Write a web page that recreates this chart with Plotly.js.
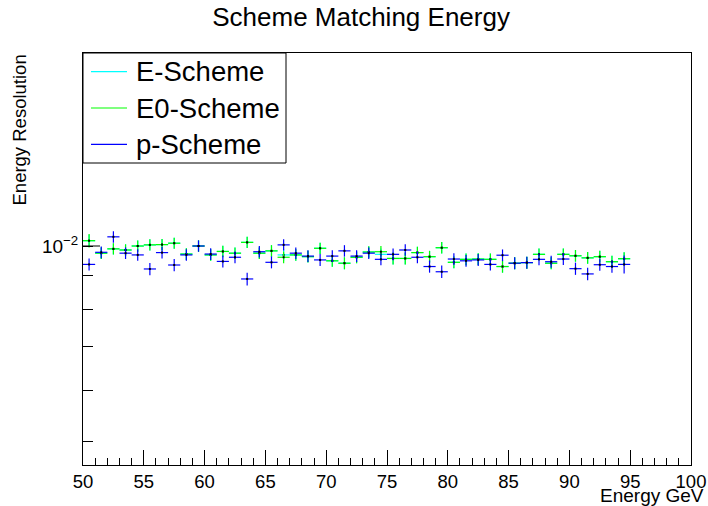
<!DOCTYPE html>
<html>
<head>
<meta charset="utf-8">
<script src="https://cdn.plot.ly/plotly-3.0.1.min.js"></script>
<style>html,body{margin:0;padding:0;background:#fff;}#chart{width:708px;height:506px;}</style>
</head>
<body>
<div id="chart"></div>
<script>
// Bin centres (Energy GeV)
const energy = [50.5,51.5,52.5,53.5,54.5,55.5,56.5,57.5,58.5,59.5,
                60.5,61.5,62.5,63.5,64.5,65.5,66.5,67.5,68.5,69.5,
                70.5,71.5,72.5,73.5,74.5,75.5,76.5,77.5,78.5,79.5,
                80.5,81.5,82.5,83.5,84.5,85.5,86.5,87.5,88.5,89.5,
                90.5,91.5,92.5,93.5,94.5];

// E-Scheme resolution
const eScheme = [0.01019,0.00975,0.00990,0.00986,0.01000,0.01004,0.01005,0.01010,0.00972,0.01000,
                 0.00969,0.00981,0.00975,0.01013,0.00975,0.00983,0.00969,0.00969,0.00963,0.00992,
                 0.00949,0.00941,0.00961,0.00979,0.00971,0.00957,0.00957,0.00977,0.00963,0.00994,
                 0.00944,0.00954,0.00955,0.00954,0.00930,0.00941,0.00943,0.00971,0.00941,0.00971,
                 0.00966,0.00959,0.00963,0.00946,0.00956];
const eSchemeErr = [0.00022,0.00020,0.00020,0.00020,0.00020,0.00020,0.00020,0.00020,0.00020,0.00020,
                    0.00020,0.00020,0.00020,0.00020,0.00020,0.00020,0.00020,0.00020,0.00020,0.00020,
                    0.00020,0.00020,0.00020,0.00020,0.00020,0.00020,0.00020,0.00020,0.00020,0.00020,
                    0.00020,0.00020,0.00020,0.00020,0.00020,0.00020,0.00020,0.00020,0.00020,0.00020,
                    0.00020,0.00020,0.00020,0.00020,0.00022];

// E0-Scheme resolution
const e0Scheme = [0.01019,0.00975,0.00990,0.00986,0.01000,0.01004,0.01005,0.01010,0.00972,0.01000,
                  0.00969,0.00981,0.00975,0.01013,0.00975,0.00983,0.00961,0.00969,0.00963,0.00992,
                  0.00949,0.00941,0.00961,0.00979,0.00980,0.00957,0.00957,0.00977,0.00963,0.00994,
                  0.00944,0.00954,0.00955,0.00954,0.00930,0.00941,0.00943,0.00971,0.00941,0.00971,
                  0.00966,0.00959,0.00963,0.00946,0.00956];
const e0SchemeErr = [0.00024,0.00020,0.00020,0.00020,0.00020,0.00020,0.00020,0.00020,0.00020,0.00020,
                     0.00020,0.00020,0.00020,0.00020,0.00020,0.00020,0.00020,0.00020,0.00020,0.00020,
                     0.00020,0.00020,0.00020,0.00020,0.00020,0.00020,0.00020,0.00020,0.00020,0.00020,
                     0.00020,0.00020,0.00020,0.00020,0.00020,0.00020,0.00020,0.00020,0.00020,0.00020,
                     0.00020,0.00020,0.00020,0.00020,0.00022];

// p-Scheme resolution
const pScheme = [0.00937,0.00978,0.01033,0.00975,0.00969,0.00922,0.00977,0.00935,0.00969,0.01000,
                 0.00972,0.00947,0.00961,0.00890,0.00980,0.00944,0.01004,0.00975,0.00965,0.00952,
                 0.00965,0.00983,0.00965,0.00975,0.00954,0.00971,0.00986,0.00961,0.00930,0.00913,
                 0.00955,0.00949,0.00952,0.00937,0.00968,0.00941,0.00943,0.00954,0.00946,0.00955,
                 0.00923,0.00906,0.00936,0.00930,0.00937];
const pSchemeErr = [0.00020,0.00020,0.00021,0.00020,0.00020,0.00020,0.00020,0.00020,0.00020,0.00020,
                    0.00020,0.00020,0.00020,0.00020,0.00020,0.00020,0.00020,0.00020,0.00020,0.00020,
                    0.00020,0.00020,0.00020,0.00020,0.00020,0.00020,0.00020,0.00020,0.00020,0.00020,
                    0.00020,0.00020,0.00020,0.00020,0.00020,0.00020,0.00020,0.00020,0.00020,0.00020,
                    0.00020,0.00020,0.00020,0.00020,0.00030];

const seriesNames = ['E-Scheme','E0-Scheme','p-Scheme'];
const seriesColors = ['#00ffff','#00ff00','#0000ff'];
const yTickVals = [0.005,0.006,0.007,0.008,0.009,0.01];
const yTickText = ['','','','','','10<sup>\u22122</sup>'];

const FONT = 'Liberation Sans, Arial, Helvetica, sans-serif';

function crossTrace(y, err, color, name){
  return {
    x: energy, y: y, type: 'scatter', mode: 'markers', name: name,
    marker: {size: 2, color: '#000000', symbol: 'square'},
    error_x: {type: 'constant', value: 0.5, color: color, thickness: 1.2, width: 0},
    error_y: {type: 'data', array: err, color: color, thickness: 1.2, width: 0},
    showlegend: false, hoverinfo: 'skip'
  };
}

const data = [
  crossTrace(eScheme, eSchemeErr, seriesColors[0], seriesNames[0]),
  crossTrace(e0Scheme, e0SchemeErr, seriesColors[1], seriesNames[1]),
  crossTrace(pScheme, pSchemeErr, seriesColors[2], seriesNames[2])
];

// Legend box (ROOT TLegend style), placed in plot-paper coordinates
const PW = 608, PH = 412;
const legRows = [71.7, 108, 144.3];   // row centres, px from top of page
const shapes = [
  {type: 'line', xref: 'paper', yref: 'y', x0: 0, x1: 17/PW, y0: 0.01, y1: 0.01, line: {color: '#000', width: 1}},
  {type: 'rect', xref: 'paper', yref: 'paper', x0: 0, x1: (286-83)/PW, y0: 1-(163-53)/PH, y1: 1,
   fillcolor: '#ffffff', line: {color: '#000', width: 1}, layer: 'above'}
];
const annotations = [
  {text: 'Energy GeV', xref: 'paper', yref: 'paper', x: (706-83)/PW, y: (465-495)/PH, xanchor: 'right', yanchor: 'middle',
   showarrow: false, font: {size: 19, family: FONT}},
  {text: 'Energy Resolution', xref: 'paper', yref: 'paper', x: (19-83)/PW, y: 1, xanchor: 'center', yanchor: 'top',
   textangle: -90, showarrow: false, font: {size: 18.5, family: FONT}}
];
seriesNames.forEach((nm, i) => {
  const yp = 1 - (legRows[i]-53)/PH;
  shapes.push({type: 'line', xref: 'paper', yref: 'paper', x0: (91-83)/PW, x1: (127-83)/PW, y0: yp, y1: yp,
               line: {color: seriesColors[i], width: 1.2}, layer: 'above'});
  annotations.push({text: nm, xref: 'paper', yref: 'paper', x: (134-83)/PW, y: yp, xanchor: 'left', yanchor: 'middle',
                    showarrow: false, font: {size: 27.5, family: FONT}});
});

const layout = {
  width: 708, height: 506,
  margin: {l: 83, r: 17, t: 53, b: 41, pad: 0},
  paper_bgcolor: '#ffffff', plot_bgcolor: '#ffffff',
  font: {family: FONT, color: '#000000'},
  showlegend: false,
  title: {text: 'Scheme Matching Energy', font: {size: 26, family: FONT, color: '#000'},
          xref: 'container', x: 0.51, xanchor: 'center', yref: 'container', y: 0.966, yanchor: 'middle'},
  xaxis: {range: [50, 100], dtick: 5, tick0: 50, ticks: 'inside', ticklen: 15, tickcolor: '#000',
          showline: true, linecolor: '#000', linewidth: 1, mirror: true, showgrid: false, zeroline: false,
          tickfont: {size: 18.5, family: FONT},
          minor: {dtick: 1, ticks: 'inside', ticklen: 7, tickcolor: '#000', showgrid: false}},
  yaxis: {type: 'log', range: [-2.3364, -1.7035], tickmode: 'array', tickvals: yTickVals, ticktext: yTickText,
          ticks: 'inside', ticklen: 10, tickcolor: '#000',
          showline: true, linecolor: '#000', linewidth: 1, mirror: true, showgrid: false, zeroline: false,
          tickfont: {size: 19, family: FONT}},
  shapes: shapes,
  annotations: annotations
};

Plotly.newPlot('chart', data, layout, {staticPlot: true, displayModeBar: false});
</script>
</body>
</html>
